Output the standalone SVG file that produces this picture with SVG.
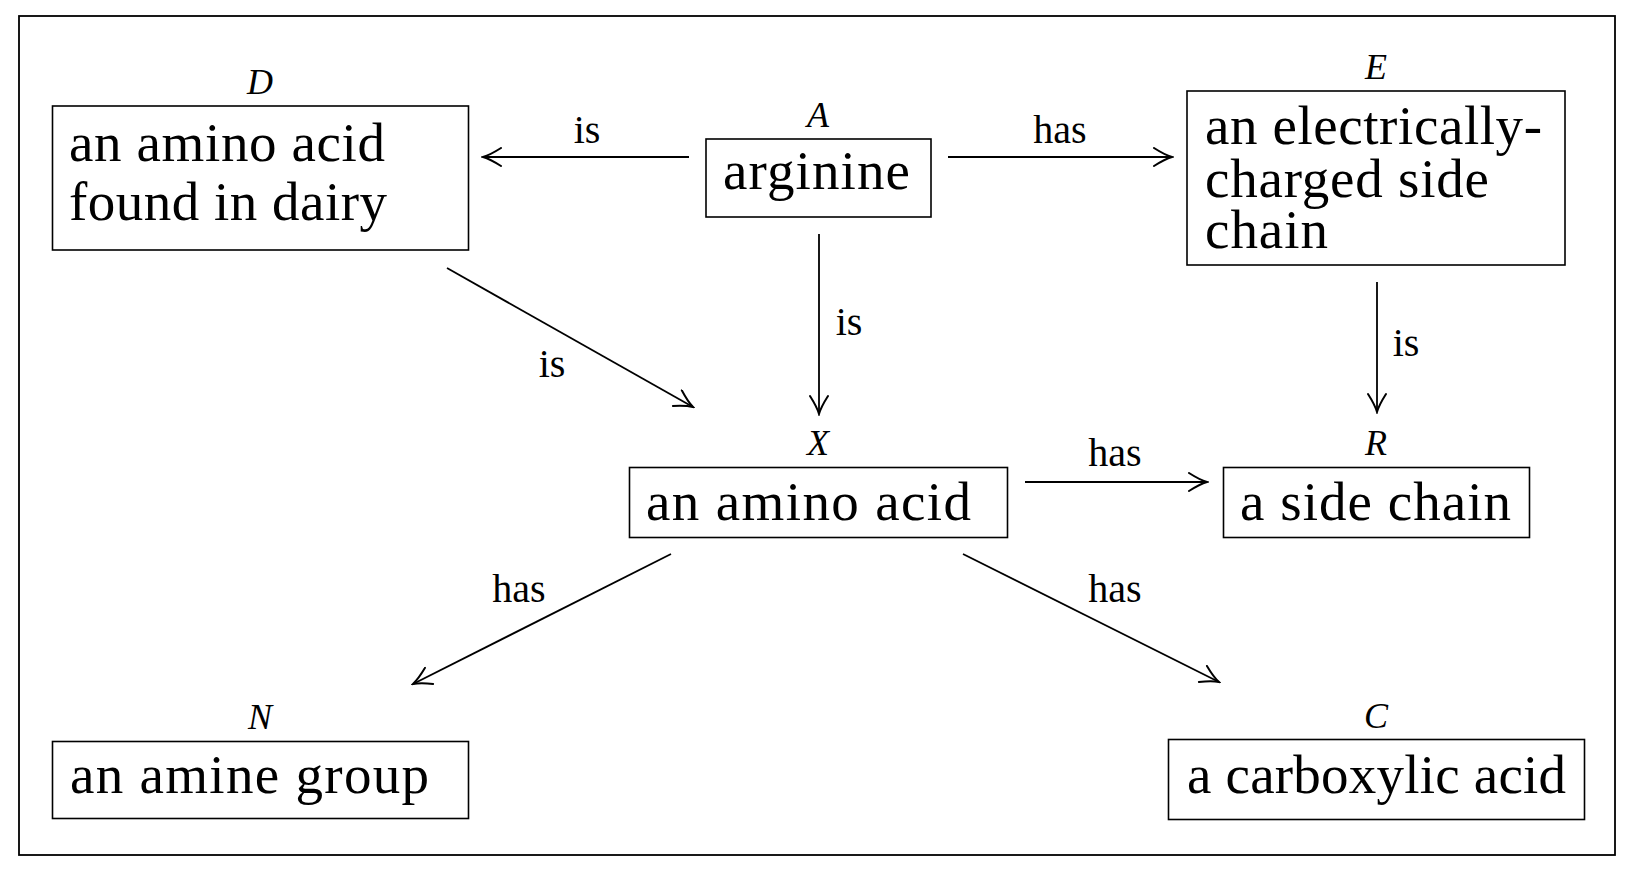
<svg xmlns="http://www.w3.org/2000/svg" width="1634" height="870" viewBox="0 0 1634 870">
<style>
.box{fill:#fff;stroke:#000;stroke-width:1.6}
.t{font-family:'Liberation Serif','Times New Roman',serif;font-size:55px;fill:#000}
.lbl{font-family:'Liberation Serif','Times New Roman',serif;font-style:italic;font-size:36px;fill:#000;text-anchor:middle}
.el{font-family:'Liberation Serif','Times New Roman',serif;font-size:40px;fill:#000;text-anchor:middle}
.edge{stroke:#000;stroke-width:1.8;fill:none;marker-end:url(#arr)}
</style>
<defs>
<marker id="arr" markerUnits="userSpaceOnUse" viewBox="-20 -10 22 20" refX="0" refY="0" markerWidth="22" markerHeight="20" orient="auto">
<path d="M -18 -9 Q -7 -2 0 0 Q -7 2 -18 9" fill="none" stroke="#000" stroke-width="2" stroke-linecap="round"/>
</marker>
</defs>
<rect x="0" y="0" width="1634" height="870" fill="#fff"/>
<rect x="19" y="16" width="1596" height="839" fill="none" stroke="#000" stroke-width="1.8"/>
<g id="edges">
<line class="edge" x1="689" y1="157" x2="483" y2="157"/>
<line class="edge" x1="948" y1="157" x2="1172" y2="157"/>
<line class="edge" x1="819" y1="234" x2="819" y2="414"/>
<line class="edge" x1="1377" y1="282" x2="1377" y2="412"/>
<line class="edge" x1="447" y1="268" x2="693" y2="407"/>
<line class="edge" x1="1025" y1="482" x2="1207" y2="482"/>
<line class="edge" x1="671" y1="554" x2="413" y2="684"/>
<line class="edge" x1="963" y1="554" x2="1219" y2="682"/>
<text class="el" x="587" y="143">is</text>
<text class="el" x="1060" y="143">has</text>
<text class="el" x="849" y="335">is</text>
<text class="el" x="1406" y="356">is</text>
<text class="el" x="552" y="377">is</text>
<text class="el" x="1115" y="466">has</text>
<text class="el" x="519" y="602">has</text>
<text class="el" x="1115" y="602">has</text>
</g>
<g id="node-D">
<text class="lbl" x="260" y="94">D</text>
<rect class="box" x="52.5" y="106" width="416" height="144"/>
<text class="t" x="69" y="161" textLength="316" lengthAdjust="spacing">an amino acid</text>
<text class="t" x="69" y="220" textLength="318" lengthAdjust="spacing">found in dairy</text>
</g>
<g id="node-A">
<text class="lbl" x="818" y="127">A</text>
<rect class="box" x="706" y="139" width="225" height="78"/>
<text class="t" x="723" y="189" textLength="187" lengthAdjust="spacing">arginine</text>
</g>
<g id="node-E">
<text class="lbl" x="1376" y="79">E</text>
<rect class="box" x="1187" y="91" width="378" height="174"/>
<text class="t" x="1205" y="144" textLength="337" lengthAdjust="spacing">an electrically-</text>
<text class="t" x="1205" y="197" textLength="284" lengthAdjust="spacing">charged side</text>
<text class="t" x="1205" y="248" textLength="123" lengthAdjust="spacing">chain</text>
</g>
<g id="node-X">
<text class="lbl" x="818" y="455">X</text>
<rect class="box" x="629.5" y="467.5" width="378" height="70"/>
<text class="t" x="646" y="520" textLength="325" lengthAdjust="spacing">an amino acid</text>
</g>
<g id="node-R">
<text class="lbl" x="1376" y="455">R</text>
<rect class="box" x="1223.5" y="467.5" width="306" height="70"/>
<text class="t" x="1240" y="520" textLength="271" lengthAdjust="spacing">a side chain</text>
</g>
<g id="node-N">
<text class="lbl" x="260" y="729">N</text>
<rect class="box" x="52.5" y="741.5" width="416" height="77"/>
<text class="t" x="70" y="793" textLength="359" lengthAdjust="spacing">an amine group</text>
</g>
<g id="node-C">
<text class="lbl" x="1376" y="728">C</text>
<rect class="box" x="1168.5" y="739.5" width="416" height="80"/>
<text class="t" x="1187" y="793" textLength="379" lengthAdjust="spacing">a carboxylic acid</text>
</g>
</svg>
